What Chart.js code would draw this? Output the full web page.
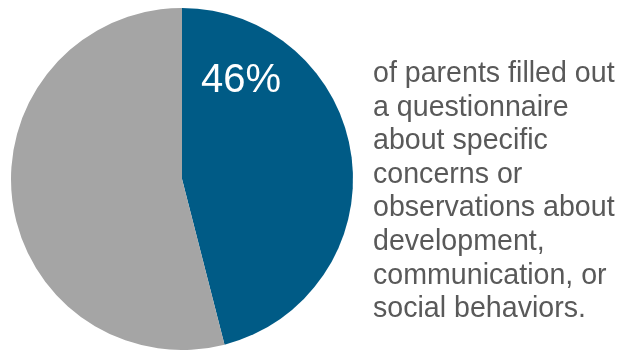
<!DOCTYPE html>
<html>
<head>
<meta charset="utf-8">
<script src="https://cdn.jsdelivr.net/npm/chart.js@4.4.0/dist/chart.umd.min.js"></script>
<style>
  html, body { margin: 0; padding: 0; background: #fff; }
  #wrap { position: relative; width: 626px; height: 350px; overflow: hidden; }
  #note {
    position: absolute; left: 373px; top: 56px; width: 253px;
    font-family: "Liberation Sans", Arial, sans-serif;
    font-size: 28.6px; line-height: 33.6px; color: #595959;
  }
</style>
</head>
<body>
<div id="wrap">
  <canvas id="pie" width="626" height="350"></canvas>
  <div id="note">of parents filled out a questionnaire about specific concerns or observations about development, communication, or social behaviors.</div>
</div>
<script>
// values
var labels = ['Filled out questionnaire', 'Did not'];
var values = [46, 54];
var colors = ['#005b86', '#a5a5a5'];
var shownLabel = '46%';

// draws the big percentage inside the blue slice
var pctLabel = {
    id: 'pctLabel',
    afterDatasetsDraw: function(chart) {
        var arc = chart.getDatasetMeta(0).data[0];
        if (!arc) return;
        var r = arc.outerRadius;
        var ctx = chart.ctx;
        ctx.save();
        ctx.font = '40px "Liberation Sans", Arial, sans-serif';
        ctx.fillStyle = '#ffffff';
        ctx.textAlign = 'center';
        ctx.textBaseline = 'alphabetic';
        ctx.fillText(shownLabel, arc.x + r * 0.345, arc.y - r * 0.51);
        ctx.restore();
    }
};

new Chart(document.getElementById('pie'), {
    type: 'pie',
    data: {
        labels: labels,
        datasets: [{
            data: values,
            backgroundColor: colors,
            borderWidth: 0
        }]
    },
    options: {
        responsive: false,
        animation: false,
        layout: { padding: { left: 10, top: 8, right: 272, bottom: 0 } },
        plugins: {
            legend: { display: false },
            tooltip: { enabled: false }
        }
    },
    plugins: [pctLabel]
});
</script>
</body>
</html>
